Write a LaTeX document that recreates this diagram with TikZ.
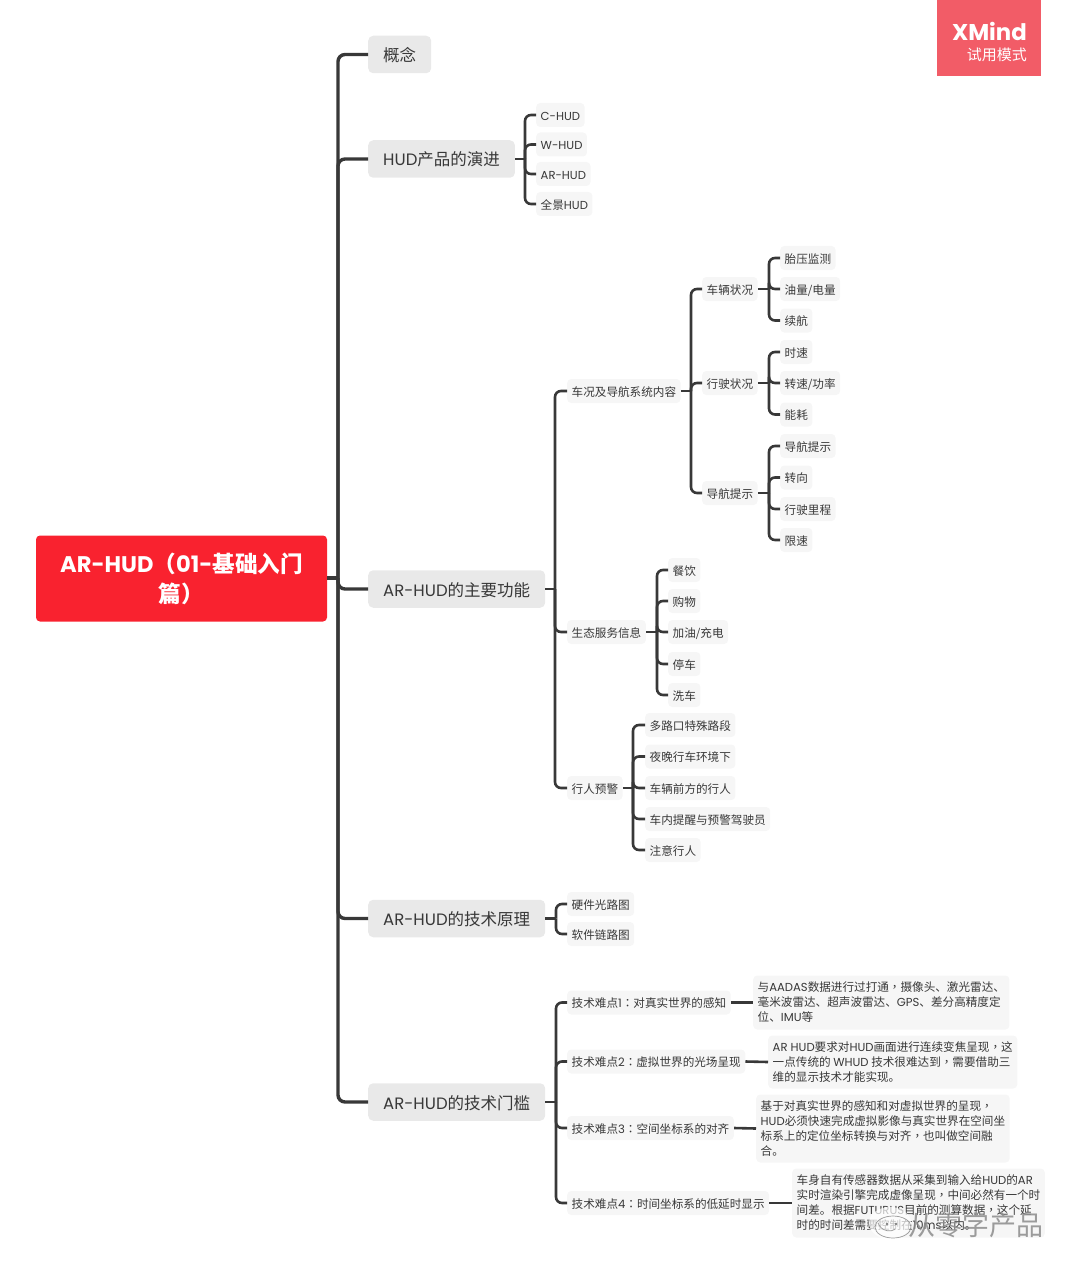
\documentclass[tikz,border=0pt]{standalone}
\usepackage{fontspec}
\usepackage{xcolor}
\usetikzlibrary{positioning,calc}
\setmainfont{Noto Sans CJK SC}
\newfontfamily\latfont{Poppins}
\newfontfamily\punctfont{Noto Sans CJK TC}
\newcommand{\la}[1]{{\latfont #1}}
\newcommand{\pn}[1]{{\punctfont #1}}
\definecolor{rootcol}{HTML}{F9222F}
\definecolor{badgecol}{HTML}{F25C67}
\definecolor{topiccol}{HTML}{E9E9E9}
\definecolor{subcol}{HTML}{F6F6F6}
\definecolor{inkcol}{HTML}{383838}

\begin{document}
\begin{tikzpicture}[
  x=1pt, y=-1pt,
  rootbox/.style={
    fill=rootcol, rounded corners=4pt, minimum width=291pt, minimum height=86pt,
    align=center, text=white, inner sep=0pt,
    font=\fontsize{22.6}{30}\selectfont\bfseries,
  },
  topic/.style={
    fill=topiccol, rounded corners=5pt, minimum height=37.5pt, inner xsep=15pt,
    inner ysep=0pt, anchor=west, text=inkcol, font=\fontsize{16.5}{20}\selectfont,
    text height=14.5pt, text depth=0.5pt,
  },
  leaf/.style={
    fill=subcol, rounded corners=4pt, minimum height=24pt, inner xsep=4.5pt,
    inner ysep=0pt, anchor=west, text=inkcol, font=\fontsize{11.6}{15}\selectfont,
    text height=10.2pt, text depth=0pt,
  },
  detail/.style={
    fill=subcol, rounded corners=4pt, inner xsep=4.5pt, inner ysep=0pt, anchor=west,
    align=left, text=inkcol, font=\fontsize{11.6}{15}\selectfont,
  },
  link/.style={draw=inkcol, line width=2.6pt, rounded corners=6pt},
  mainlink/.style={draw=inkcol, line width=3.4pt, rounded corners=7pt},
]
\useasboundingbox (0,0) rectangle (1080,1273);

% ============================================================
% ROOT AND MAIN TOPICS
% ============================================================
\node[rootbox] (root) at (181.5,578.5) {\la{AR-HUD}\pn{（}\la{01-}基础入门\\篇\pn{）}};

\node[topic] (concept) at (368,54.5) {概念};
\node[topic] (evolve) at (368,159) {\la{HUD}产品的演进};
\node[topic] (funcs) at (368,589) {\la{AR-HUD}的主要功能};
\node[topic] (theory) at (368,918.5) {\la{AR-HUD}的技术原理};
\node[topic] (barrier) at (368,1102) {\la{AR-HUD}的技术门槛};

\coordinate (hubroot) at (338,578);
\draw[mainlink] (root.east |- hubroot) -- (hubroot);
\foreach \kid in {concept,evolve,funcs,theory,barrier}
  \draw[mainlink] (hubroot) |- (\kid.west);

% ============================================================
% HUD EVOLUTION
% ============================================================
\node[leaf] (chud) at (536,115) {\la{C-HUD}};
\node[leaf] (whud) at (536,144.5) {\la{W-HUD}};
\node[leaf] (arhud) at (536,174) {\la{AR-HUD}};
\node[leaf] (panhud) at (536,204) {全景\la{HUD}};

\coordinate (hubevolve) at (525,159);
\draw[link] (evolve.east) -- (hubevolve);
\foreach \kid in {chud,whud,arhud,panhud}
  \draw[link] (hubevolve) |- (\kid.west);

% ============================================================
% MAIN FUNCTIONS
% ============================================================
\node[leaf] (navsys) at (567,391) {车况及导航系统内容};
\node[leaf] (eco) at (567,632) {生态服务信息};
\node[leaf] (walker) at (567,788) {行人预警};

\coordinate (hubfuncs) at (555,589);
\draw[link] (funcs.east) -- (hubfuncs);
\foreach \kid in {navsys,eco,walker}
  \draw[link] (hubfuncs) |- (\kid.west);

% --- navigation system ---
\node[leaf] (carstate) at (702,289) {车辆状况};
\node[leaf] (drivestate) at (702,383) {行驶状况};
\node[leaf] (navhint) at (702,493) {导航提示};

\coordinate (hubnavsys) at (691,391);
\draw[link] (navsys.east) -- (hubnavsys);
\foreach \kid in {carstate,drivestate,navhint}
  \draw[link] (hubnavsys) |- (\kid.west);

\node[leaf] (tyre) at (780,258) {胎压监测};
\node[leaf] (fuel) at (780,289) {油量/电量};
\node[leaf] (range) at (780,320.5) {续航};
\coordinate (hubcar) at (769,289);
\draw[link] (carstate.east) -- (hubcar);
\foreach \kid in {tyre,fuel,range}
  \draw[link] (hubcar) |- (\kid.west);

\node[leaf] (speed) at (780,352) {时速};
\node[leaf] (power) at (780,383) {转速/功率};
\node[leaf] (energy) at (780,414.5) {能耗};
\coordinate (hubdrive) at (769,383);
\draw[link] (drivestate.east) -- (hubdrive);
\foreach \kid in {speed,power,energy}
  \draw[link] (hubdrive) |- (\kid.west);

\node[leaf] (guide) at (780,446) {导航提示};
\node[leaf] (turn) at (780,477.5) {转向};
\node[leaf] (mileage) at (780,509) {行驶里程};
\node[leaf] (limit) at (780,540) {限速};
\coordinate (hubnav) at (769,493);
\draw[link] (navhint.east) -- (hubnav);
\foreach \kid in {guide,turn,mileage,limit}
  \draw[link] (hubnav) |- (\kid.west);

% --- ecosystem services ---
\node[leaf] (food) at (668,570) {餐饮};
\node[leaf] (shop) at (668,601) {购物};
\node[leaf] (charge) at (668,632) {加油/充电};
\node[leaf] (parking) at (668,664) {停车};
\node[leaf] (wash) at (668,695) {洗车};
\coordinate (hubeco) at (657,632);
\draw[link] (eco.east) -- (hubeco);
\foreach \kid in {food,shop,charge,parking,wash}
  \draw[link] (hubeco) |- (\kid.west);

% --- pedestrian warning ---
\node[leaf] (junction) at (645,725) {多路口特殊路段};
\node[leaf] (night) at (645,756.5) {夜晚行车环境下};
\node[leaf] (ahead) at (645,788) {车辆前方的行人};
\node[leaf] (cabin) at (645,819) {车内提醒与预警驾驶员};
\node[leaf] (watch) at (645,850) {注意行人};
\coordinate (hubwalker) at (633,788);
\draw[link] (walker.east) -- (hubwalker);
\foreach \kid in {junction,night,ahead,cabin,watch}
  \draw[link] (hubwalker) |- (\kid.west);

% ============================================================
% TECHNICAL PRINCIPLE
% ============================================================
\node[leaf] (optics) at (567,904) {硬件光路图};
\node[leaf] (software) at (567,934) {软件链路图};
\coordinate (hubtheory) at (556,918.5);
\draw[link] (theory.east) -- (hubtheory);
\foreach \kid in {optics,software}
  \draw[link] (hubtheory) |- (\kid.west);

% ============================================================
% TECHNICAL BARRIERS
% ============================================================
\node[leaf] (hardone) at (567,1002.5) {技术难点\la{1}\pn{：}对真实世界的感知};
\node[leaf] (hardtwo) at (567,1061.5) {技术难点\la{2}\pn{：}虚拟世界的光场呈现};
\node[leaf] (hardthree) at (567,1128) {技术难点\la{3}\pn{：}空间坐标系的对齐};
\node[leaf] (hardfour) at (567,1203) {技术难点\la{4}\pn{：}时间坐标系的低延时显示};
\coordinate (hubbarrier) at (556,1102);
\draw[link] (barrier.east) -- (hubbarrier);
\foreach \kid in {hardone,hardtwo,hardthree,hardfour}
  \draw[link] (hubbarrier) |- (\kid.west);

\node[detail, minimum height=54pt] (noteone) at (753,1002.5)
  {与\la{AADAS}数据进行过打通\pn{，}摄像头、激光雷达、\\毫米波雷达、超声波雷达、\la{GPS}、差分高精度定\\位、\la{IMU}等};
\node[detail, minimum height=53pt] (notetwo) at (768,1062)
  {\la{AR HUD}要求对\la{HUD}画面进行连续变焦呈现\pn{，}这\\一点传统的 \la{WHUD} 技术很难达到\pn{，}需要借助三\\维的显示技术才能实现。};
\node[detail, minimum height=68pt] (notethree) at (756,1128.5)
  {基于对真实世界的感知和对虚拟世界的呈现\pn{，}\\\la{HUD}必须快速完成虚拟影像与真实世界在空间坐\\标系上的定位坐标转换与对齐\pn{，}也叫做空间融\\合。};
\node[detail, minimum height=69pt] (notefour) at (792,1203)
  {车身自有传感器数据从采集到输入给\la{HUD}的\la{AR}\\实时渲染引擎完成虚像呈现\pn{，}中间必然有一个时\\间差。根据\la{FUTURUS}目前的测算数据\pn{，}这个延\\时的时间差需要控制在\la{10ms}以内。};

\draw[link] (hardone.east) -- (noteone.west);
\draw[link] (hardtwo.east) -- (notetwo.west);
\draw[link] (hardthree.east) -- (notethree.west);
\draw[link] (hardfour.east) -- (notefour.west);

% ============================================================
% BADGE AND WATERMARK
% ============================================================
\fill[badgecol] (937,0) rectangle (1041,76);
\node[anchor=east, text=white, inner sep=0pt, font=\fontsize{22.8}{24}\selectfont\latfont\bfseries]
  (badgename) at (1027,31) {XMind};
\node[anchor=east, text=white, inner sep=0pt, font=\fontsize{15}{18}\selectfont]
  (badgemode) at (1027,55) {试用模式};

\fill[white, opacity=0.7] (890,1223) ellipse (21pt and 16pt);
\draw[black!40, line width=0.7pt] (893,1227) ellipse (18pt and 11pt);
\draw[black!40, line width=0.7pt] (878,1223) arc (200:300:12pt);
\fill[black!50] (887,1224) circle (1.3pt) (896,1224) circle (1.3pt);
\node[anchor=west, inner sep=0pt, text=black!45, opacity=0.85, font=\fontsize{27}{30}\selectfont]
  (markname) at (908,1225) {从零字产品};
\end{tikzpicture}
\end{document}
